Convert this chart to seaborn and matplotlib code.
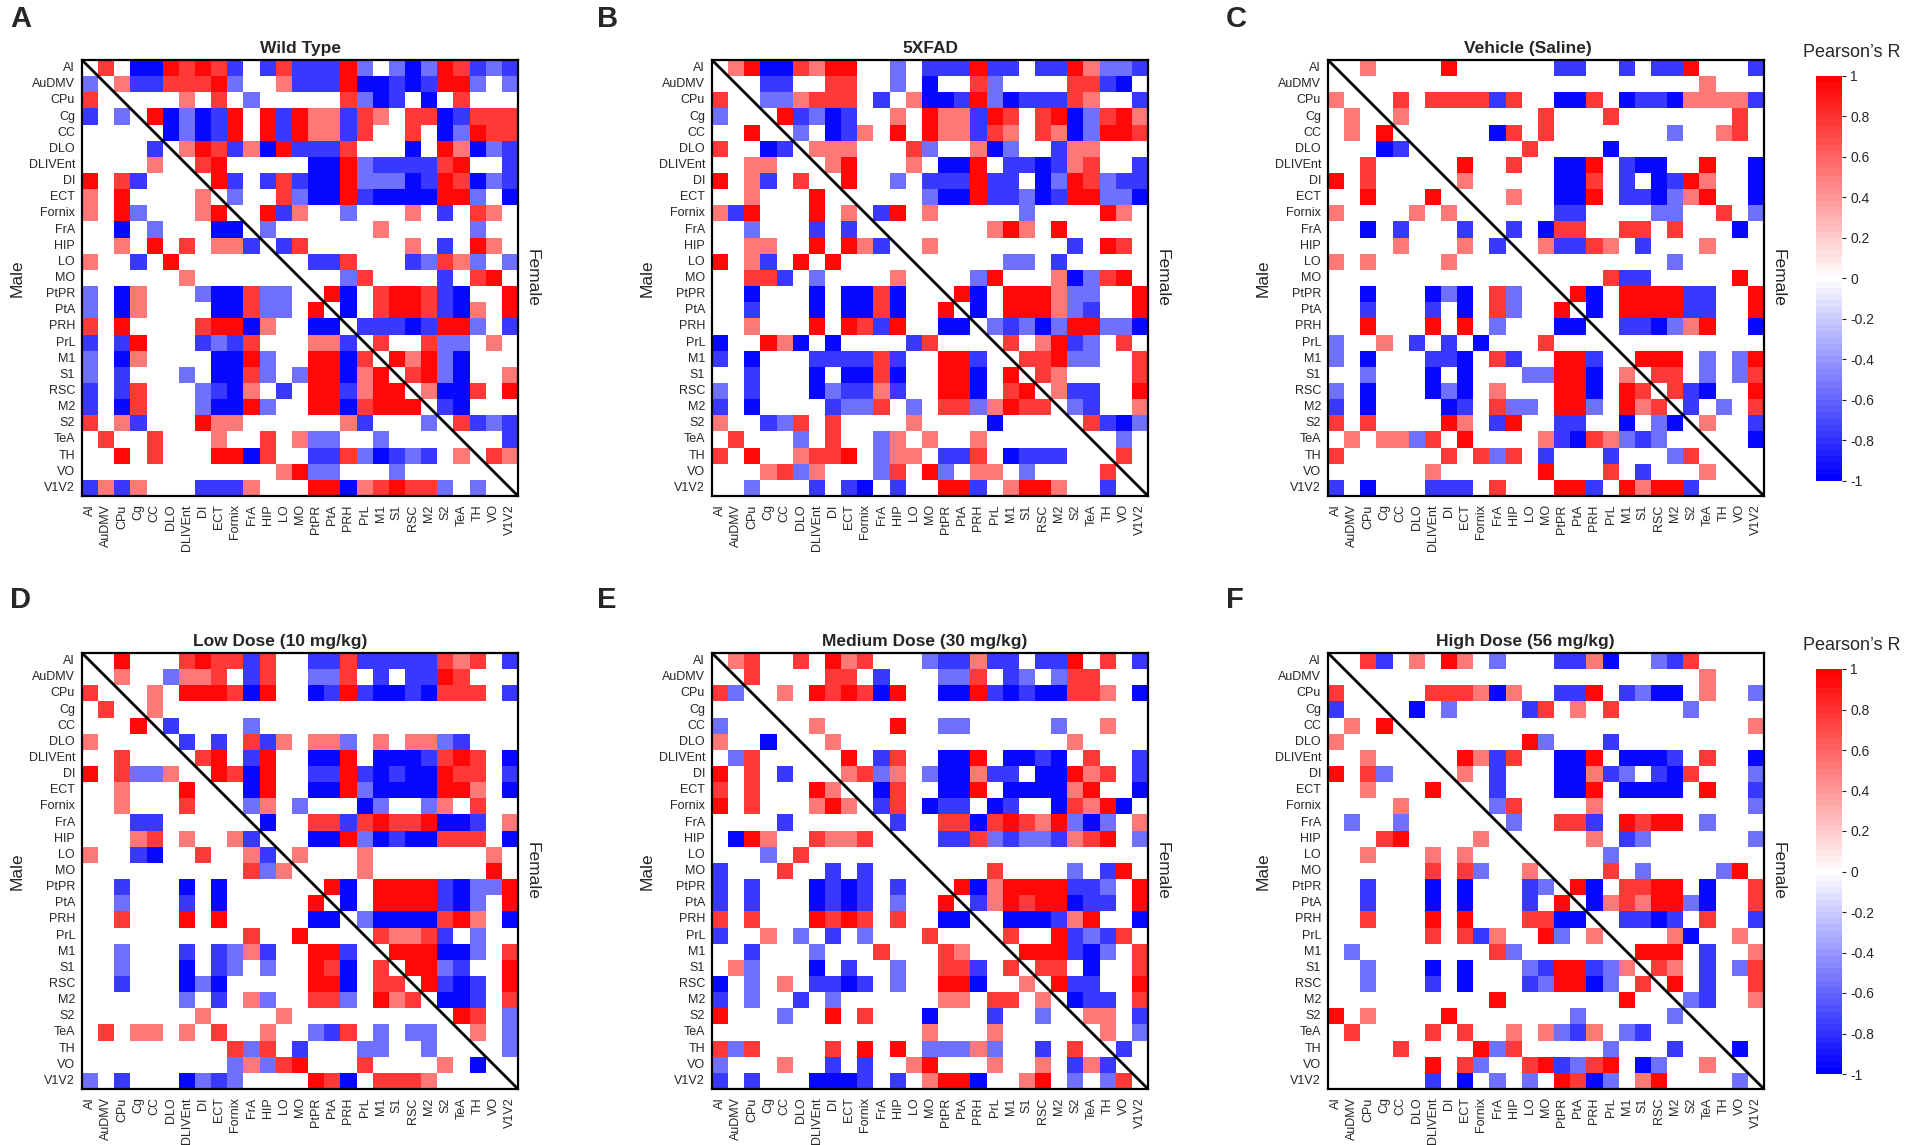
import numpy as np
import pandas as pd
import matplotlib
matplotlib.use('Agg')
import matplotlib.pyplot as plt
import seaborn as sns

regions = ['AI', 'AuDMV', 'CPu', 'Cg', 'CC', 'DLO', 'DLIVEnt', 'DI', 'ECT', 'Fornix',
           'FrA', 'HIP', 'LO', 'MO', 'PtPR', 'PtA', 'PRH', 'PrL', 'M1', 'S1', 'RSC',
           'M2', 'S2', 'TeA', 'TH', 'VO', 'V1V2']

# cell colour: R strong red .. B strong blue, '.' = blank (0)
levels = {'R': 0.96, 'r': 0.76, 'p': 0.52, '.': 0.0, 'l': -0.56, 'b': -0.76, 'B': -0.96}

# rows = regions, upper triangle female, lower triangle male
wild_type = [
    ". r . B B R r R r b . b r b b b R l . l B l R r b l b",
    "l . p b b r r r R l . . p b b b R B B b B b R R l . l",
    "r . . . . . p . r . l . . . . . r l B b . B . r . . .",
    "b . l . R B l B b R . R b R p p b r p . r r B b r r r",
    ". . . . . B l B b R . R b R p p b r . . r . B l R r r",
    ". . . . b . p R r b p B R b b b r . . . B . R p B l b",
    ". . . . p . . r R . . . . . B B R l b b b b r R . . b",
    "R . r b . . . . R b . b r b B B R l l l B b R r B l b",
    "p . R . . . . p . l . . r l B B R b B B B B R R l . B",
    "p . R l . . . p R . . R b p . . l . . . p . b . r p .",
    ". . B . l . . . B B . l . . . . . . p . . . . . l . .",
    ". . p . R . r . p p b . b r . . . . . . p . b . R p .",
    "p . . b . R . . . . . . . . b b r . . . b l r p l . l",
    ". . . . . . p . . . . . . . . . l r . . . . b . r R .",
    "l . B p . . . l B B r l l . . R B . r R R r b B . . R",
    "l . B p . . . . B B r l l . R . B . r R R r b B p . R",
    "r . R . . . . r R R B p . . B B . b b b B b R R l . b",
    "b . b R . . . b l b r . . . p p b . r . . r l l . p .",
    "l . B p . . . . B B R l . . R R B r . R p R l B . . .",
    "l . b . . . l . B B r l . l R R B p R . r R l B . . p",
    "b . b r . . . l b B p . b . R R b p R R . p B B r . R",
    "b . B r . . . l B B R l . . R R B r R R R . b B . . .",
    "r . p b . . . R p p . . . . . . p b . . . l . r b l b",
    ". r . . r . . . p . . r . p l l . . l . . . . . . . b",
    ". . R . r . . . R R B r . . b b r l B b l b . p . r p",
    ". . . . . . . . . . . . p R l l . . . l . . . . . . .",
    "b p b p . . . b b b p . . . R R B p r R r r l . l . .",
]

fivexfad = [
    ". p R B B r p R R . . l . b b b R b b . b b R p l l b",
    ". . . b b . . r r . . l . B . . r l . . . . r r b B .",
    "r . . l l p r r r . b . p B B b R l B b b b r p . . b",
    "l . . . R b l B b . . p . R p p b R r . r R B l r R p",
    ". . R . . l . B b p . R . R p p b r p . r p B l R R r",
    "r . . B b . p p p . . . r l . . p B l . . b p p . . .",
    ". . p p . . . p R . . . p . B B R . b b B b p r . . b",
    "R . p b . r . . R . . l . b b b R b b . B l R r l b b",
    ". . p . . . R . . . . . . l B B R b b l B b R R l l B",
    "p b R . . . R . p . b R . p . . . . . l . . . . R p .",
    ". . l . . . b . b . . . . . . . . p R p . R . . . . .",
    ". . p p . . R . R p b . . p . . . . . . . . b . R r .",
    "R . p b . R . R . . . . . . . . . . l l . b . . . . .",
    ". . r r b . l . . . . p . . . . l R . . . p B l r R .",
    ". . B . . . B . B B r B . . . R B . R R R p l l . . R",
    ". . b . . . B . B B r B . . R . B . R R R p l b . . R",
    ". . p . . . R . R r b R . . B B . l b l B l R R l l B",
    "B . . R p B . B . . . . b r . . . . r . p R b l . r .",
    "b . B . . . b b b b r b . . R R b . . r r R l l . . r",
    ". . b . . . B . B B r B . . R R B . R . r p . . . . r",
    "l . b . . . B l b b p b . . R R B . r R . p b b . . R",
    "b . B . . . . b l l r . l . r r l p R r r . l b . . p",
    "p . . b l r . r . . . . p . . . . B . . . . . r b B l",
    ". r . . . l . r . . l p . p . . p . . . . . . . . l .",
    "r . R . . p r r R . l p p . b b r . B b b b . . . r .",
    ". . . p r l p . . . l r . R l . p p . l . . . . r . .",
    ". . l . . . b . b B . b . . R R b . p R R p . . b . .",
]

vehicle = [
    ". . p . . . . R . . . . . . b b . . b . b b R . . . b",
    ". . . . . . . . . . . . . . . . . . . . . . . p . . .",
    "p . . . r . r r r r b r . . B B r . B b b B p p p p b",
    ". p . . p . . . . . . . . r . . . r . . . . . . . r .",
    ". p . R . . . . . . B r . r . . . . . . . l . . p r .",
    ". . . B b . . . . . . . r . . . . B . . . . . . . . .",
    ". . r . . . . . R . . r . . B B R . b B B . . R . . B",
    "R . r . . . . . p . . . . . B B r . b . B b R p . . B",
    ". . R . . . R . . . . p . . B B R . b b B l p R . . B",
    "p . . . . p . p . . . . . . b b . . . . l l . . r . l",
    ". . B . b . . . b . . b . B r r . . r r . r . . . B .",
    ". . . . p . . . p . b . . p b b r p . b . . . p . . .",
    "p . p . . . . p . . . . . . . . . . . . . l . . . . .",
    ". . . . . . . . . . . . . . . . . r b b . . . . . R .",
    ". . B . . . B l B . r l . . . R B . R R R R b b . . R",
    ". . b . . . b . B . r l . . R . B . R R R R b b . . R",
    ". . R . . . R . R . l . . . B B . . b b B l p R . . B",
    "l . . p . b . b . B . . . r . . . . . . . . . . . . .",
    "l . B . . . b b B . r b . . R R b . . R R R . l . l R",
    ". . l . . . B . B . . . l l R R B . p . r r . l . l r",
    "l . B . . . B l B . p . . . R R B . R r . r b B . . R",
    "b . B . . . . B b . r l l . R R l . R p r . b . l . r",
    "r . r . . . . R p . b R . . b b . . B . l B . p . . b",
    ". p . p p l r . R . . . . p b B r p l b l . . . . . B",
    "r . . . . . . r . r l r . b . . . b . . . l r . . . .",
    ". . . . . . p . . . . . . R . . . r . b . . . p . . .",
    "b . B . . . b b b . r . . . R R b . R p R R b . . . .",
]

low_dose = [
    ". . R . . . r R r r b r . . b b r b b b b b r p r . b",
    ". . p . . l p p r . b r . . l l r . b . b b R r . . .",
    "r . . . p . R R R r B R . . B b R b B B b B r r r . b",
    ". r . . p . . . . . . . . . . . . . . . . . . . . . .",
    ". . . R . b . . . . l . . . . . . . . . . . . . . . .",
    "p . . . . . b . b . r b p . p p l . p . p p l b . . .",
    ". . r . . . . r R . b R . . B B R . B B B b r R r . B",
    "R . r l l p . . R r B R . . b b R b B b B B R r r . b",
    ". . p . . . R . . . B R . . B B R l B B B B R R p . B",
    ". . p . . . r . . . l p . l . . . B l . . l p . r . .",
    ". . . b b . . . . . . B . . r r b r R r r R B B b . p",
    ". . . p r . p . . p b . . . B B R l B b B B r r r . B",
    "p . . b B . . r . . p b . p . . . p . . . . . . . p .",
    ". . . . . . . . . . r l p . . . . p . . . . . . . R .",
    ". . b . . . B . B . . . . . . R B . R R R R b B l l R",
    ". . l . . . b . B . . . . . R . B . R R R R b B l . R",
    ". . r . . . R . R . . . . . B B . l B B B B r R p . B",
    ". . . . . . . . . . r . . R . . . . r p p r b . l . .",
    ". . l . . . b . b l p b . . R R b . . R R R B B l . r",
    ". . l . . . B . b l . l . . R r B . r . R R l b . . R",
    ". . b . . . B l B . . . . . R R B . r r . R b B b . R",
    ". . . . . . l . b . p l . . r r l . R p r . B B b . r",
    ". . . . . . . p . . . . p . . . . . . . . . . R r . l",
    ". r . p p . p . r . . p . . l b r . l . l l . . p . l",
    ". . . . . . . . . r l r . b . . . l l . . l . . . . l",
    ". . . . . . . . . l p l r R . . . r . . . . p . B . .",
    "l . b . . . B l b l . . . . R r B . r r r p . . . . .",
]

medium_dose = [
    ". p r . . r . R p r . . . l b b p b b . b b R . r . b",
    ". . r . . . . r r . b . . . l l r . b l . l r r . . .",
    "r l . . p . R r R r B R . . B B R b B b B B r r p . B",
    ". . . . . . . . . . . . . . . . . . . . . . . . . . .",
    "l . . . . . p . . . . R . . l l . . . . . l . . p . .",
    "p . . B . . . p . . . . . . . . . . . . . . p . . . .",
    ". l r . . . . . R . b r . . B B R . B B b B . r . . b",
    "R . r . b . . . p r l p . l B B p b b . B B R p r . b",
    "r . r . . . R p . . B r . . B B R . B B B B p R . . B",
    "R . r . . . p R p . b r . B b b . B b . . B r p R B .",
    ". . . . b . . . . . . b . . r r B r R r p R l B l . p",
    ". B R p . . r p p r . . . . b b r l b l l b p r R . l",
    ". . . l . r . . . . . . . . . . . . . . . . . . . . .",
    "b . . . r . . b . b . . . . . . . r . . . . l . b R .",
    "b . b . . . B b B b . b . . . R B p R R R R b b l . R",
    "b . b . . . B b B b . l . . R . b p R r R R B b b . R",
    "r . r . . . R r R r . r . . B B . . B B B b p R . . B",
    "b . . p . l . b . l . . . r . . . . r . . R b l b r .",
    ". . b . . . l . . . r . . . r p . . . R R R b B l . r",
    ". p l . . . B . b . . l . . r r b . r . r r . B . . r",
    "B . l . p . b b B b . l . . R R B . . p . R b b . . R",
    "b . l . . b . l . . . . . . p p . r r . p . B b b . r",
    "R . . . l . . R . r . . . B . . . b . . l . . p p . b",
    ". . . . . . . . . . . . . p . . . p . . . . . . p . l",
    "r l r . . . . r . R . R . l l l p l . . b . r . . b .",
    "l . . . p . . b . b . . p R . . . p . . p . b p b . .",
    "b . b . . . B B B b . b . p R R B . . p R . l . l r .",
]

high_dose = [
    ". . r b . p . R p . l . . . b b p B . . l b r . . . .",
    ". . . . . . . . . . . . . . . . . . . . . . . p . . .",
    "r . . . . . r r r p B p . . b b R . b l B B . p . . l",
    "b . . . . B . l . . . . b r . p . r . . . . l . . . .",
    ". p . R . . . . . . . . . . . . . . . . . . . . . . p",
    "p . . . . . . . . . . . R l . . . b . . . . . . . . .",
    ". . p . . . . . R p b r . . B B R . B B B b . r . . B",
    "R . r l . . . . p . b . . . B B p b l . b B r . . . l",
    ". . p . . . R . . . b . . . B B R . B B B B . R . . b",
    ". . . . p . . . . . l r . . . . p . . . . . . . . . l",
    ". l . . l . . . . . . l . . r r b . R r R R . l . . .",
    ". . . r R . . . . p . . . . . . p . b l . . . . . . l",
    ". . p . . . p . p . . . . . . . . l . . . . . . . . .",
    ". . . . . . r . r l . . p . . . . r . l . . . . l R .",
    ". . b . . . B . B . . . b l . R B . r r R R . B . . r",
    ". . b . . . B . B . . . b . R . B p r p R R l B . . r",
    ". . r . . . R . R . . . r r B B . . b b B b . r . . b",
    ". . . . . . r . r b p . . R l . p . . . . p B . . p .",
    ". l . . . . . . . . r l . . . . . . . R R R . b . . p",
    ". . l . . . B . B . . . l b R R b l p . r p . b . l r",
    ". . l . . . b . B . . . b l R R B l . r . R . b . . r",
    ". . . . . . . . . . R . . . . . . . R . . . l b . . p",
    "R . p . . . . R . . . . . . . l . . . . . l . . . . .",
    ". r . . . . r . r . . p . p l b p . l b . . . . . . .",
    ". . . . r . . . . R l r . . . . . l . . . b . . . B .",
    ". . . . . . R . r l . . r R b l r R . B l . . p . . .",
    ". . . . . . b . B . l . l . R r B l . p R . . . . l .",
]

panels = [wild_type, fivexfad, vehicle, low_dose, medium_dose, high_dose]
titles = ['Wild Type', '5XFAD', 'Vehicle (Saline)',
          'Low Dose (10 mg/kg)', 'Medium Dose (30 mg/kg)', 'High Dose (56 mg/kg)']
letters = ['A', 'B', 'C', 'D', 'E', 'F']
cbar_ticks = [-1, -0.8, -0.6, -0.4, -0.2, 0, 0.2, 0.4, 0.6, 0.8, 1]
cbar_labels = ['-1', '-0.8', '-0.6', '-0.4', '-0.2', '0', '0.2', '0.4', '0.6', '0.8', '1']


def to_matrix(rows):
    m = []
    for row in rows:
        vals = [levels[c] for c in row.split()]
        vals = (vals + [0.0] * 27)[:27]
        m.append(vals)
    return pd.DataFrame(np.array(m), index=regions, columns=regions)


sns.set_style('white')
plt.rcParams['font.family'] = ['Liberation Sans', 'DejaVu Sans']
plt.rcParams['axes.unicode_minus'] = False

W, H = 1907, 1145
fig = plt.figure(figsize=(W / 100, H / 100), dpi=100)
# odd number of steps so that 0 falls on pure white
cmap = matplotlib.colormaps['bwr'].resampled(65)

col_left = [82, 712, 1328]
row_top = [60, 653]
size = 436
title_x = [300, 930, 1528, 280, 925, 1525]
letter_x = [10, 597, 1226]
letter_base = [27, 608]

for k, rows in enumerate(panels):
    r, c = divmod(k, 3)
    x0, y0 = col_left[c], row_top[r]
    ax = fig.add_axes([x0 / W, 1 - (y0 + size) / H, size / W, size / H])
    cax = None
    if c == 2:
        cax = fig.add_axes([1816 / W, 1 - (y0 + 16 + 405) / H, 26 / W, 405 / H])
    sns.heatmap(to_matrix(rows), ax=ax, cmap=cmap, vmin=-1, vmax=1,
                cbar=(c == 2), cbar_ax=cax,
                xticklabels=regions, yticklabels=regions)
    ax.plot([0, 27], [0, 27], color='black', lw=2)
    for sp in ax.spines.values():
        sp.set_visible(True)
        sp.set_color('black')
        sp.set_linewidth(1.6)
    ax.tick_params(axis='both', length=0, labelsize=9)
    ax.tick_params(axis='y', pad=5)
    ax.tick_params(axis='x', pad=6)
    ax.set_xticklabels(regions, rotation=90, va='top', ha='center')
    ax.set_yticklabels(regions, rotation=0, va='center', ha='right')

    ax.text(-65 / size, 0.5, 'Male', transform=ax.transAxes, rotation=90,
            ha='center', va='center', fontsize=12.5)
    ax.text(1 + 14 / size, 0.5, 'Female', transform=ax.transAxes, rotation=270,
            ha='center', va='center', fontsize=12.5)

    fig.text(title_x[k] / W, 1 - (y0 - 7) / H, titles[k], ha='center',
             va='baseline', fontsize=12.5, fontweight='bold')
    fig.text(letter_x[c] / W, 1 - letter_base[r] / H, letters[k], ha='left',
             va='baseline', fontsize=21, fontweight='bold')

    if c == 2:
        cb = ax.collections[0].colorbar
        cb.set_ticks(cbar_ticks)
        cb.set_ticklabels(cbar_labels)
        cb.outline.set_visible(False)
        cb.ax.tick_params(labelsize=10, length=3, width=0.8, pad=3)
        fig.text(1803 / W, 1 - (y0 - 3) / H, 'Pearson\u2019s R', ha='left',
                 va='baseline', fontsize=13)

fig.savefig('out.png', dpi=100)
